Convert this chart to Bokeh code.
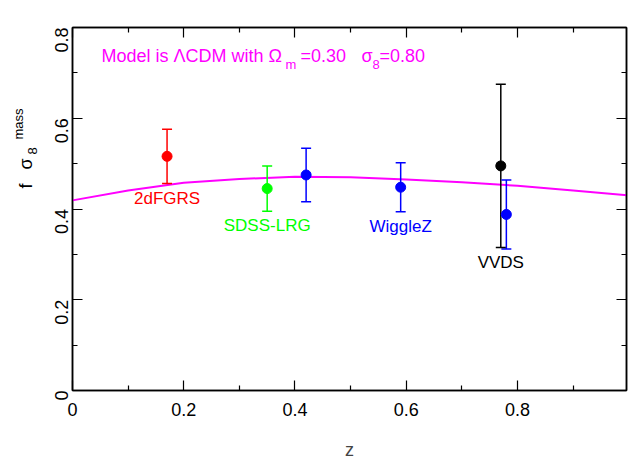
import math
from bokeh.plotting import figure
from bokeh.layouts import row
from bokeh.models import Range1d, LinearAxis, Label, CustomJSTickFormatter, ColumnDataSource
from bokeh.embed import file_html
from bokeh.resources import INLINE
from bokeh.core.properties import value

# ---- data ----
z = [0.17, 0.35, 0.42, 0.59, 0.78, 0.77]
fs8 = [0.516, 0.445, 0.475, 0.448, 0.388, 0.495]
err = [0.060, 0.050, 0.059, 0.054, 0.076, 0.180]
pt_colors = ["#ff0000", "#00ff00", "#0000ff", "#0000ff", "#0000ff", "#000000"]

survey_names = ["2dFGRS", "SDSS-LRG", "WiggleZ", "VVDS"]
survey_point = [0, 1, 3, 5]          # which point each name sits under

model_z = [0.0, 0.1, 0.2, 0.3, 0.4, 0.5, 0.6, 0.7, 0.8, 0.9, 1.0]
model_fs8 = [0.419, 0.441, 0.458, 0.466, 0.471, 0.470, 0.465, 0.459, 0.451, 0.441, 0.430]

x_ticks_major = [0, 0.2, 0.4, 0.6, 0.8]
y_ticks_major = [0, 0.2, 0.4, 0.6, 0.8]

FONT = "Liberation Sans"
MAGENTA = "#ff00ff"
H = 462
LW = 40   # width of the strip that carries the y-axis title

p = figure(width=628 - LW, height=H, output_backend="svg", toolbar_location=None,
           x_range=Range1d(0, 0.996), y_range=Range1d(0, 0.8),
           min_border_left=72 - LW, min_border_right=2, min_border_top=27,
           min_border_bottom=68, background_fill_color="white",
           border_fill_color="white", outline_line_color="black",
           outline_line_width=1.5)
p.xgrid.visible = False
p.ygrid.visible = False


def style_axis(ax, labels=True):
    ax.axis_line_color = "black"
    ax.axis_line_width = 1.5
    ax.major_tick_line_color = "black"
    ax.minor_tick_line_color = "black"
    ax.major_tick_line_width = 1.2
    ax.minor_tick_line_width = 1.2
    ax.major_tick_in = 10
    ax.major_tick_out = 0
    ax.minor_tick_in = 5
    ax.minor_tick_out = 0
    ax.major_label_text_font = FONT
    ax.major_label_text_font_size = "18px"
    ax.major_label_text_color = "black"
    if not labels:
        ax.formatter = CustomJSTickFormatter(code="return ''")
        ax.major_label_text_font_size = "0px"
        ax.major_label_standoff = 0


xa = p.xaxis[0]
xa.ticker = x_ticks_major
style_axis(xa)
xa.ticker.minor_ticks = [0.1, 0.3, 0.5, 0.7, 0.9]
xa.major_label_standoff = 12
xa.axis_label = "z"
xa.axis_label_text_font = FONT
xa.axis_label_text_font_size = "18px"
xa.axis_label_text_font_style = "normal"
xa.axis_label_standoff = 21

ya = p.yaxis[0]
ya.ticker = y_ticks_major
style_axis(ya)
ya.ticker.minor_ticks = [0.1, 0.3, 0.5, 0.7]
ya.major_label_orientation = math.pi / 2
ya.major_label_standoff = 11

top = LinearAxis()
top.ticker = x_ticks_major
style_axis(top, labels=False)
top.ticker.minor_ticks = [0.1, 0.3, 0.5, 0.7, 0.9]
p.add_layout(top, "above")

right = LinearAxis()
right.ticker = y_ticks_major
style_axis(right, labels=False)
right.ticker.minor_ticks = [0.1, 0.3, 0.5, 0.7]
p.add_layout(right, "right")

# ---- model curve ----
p.line(model_z, model_fs8, line_color=MAGENTA, line_width=2)

# ---- error bars and points ----
lo = [v - e for v, e in zip(fs8, err)]
hi = [v + e for v, e in zip(fs8, err)]
src = ColumnDataSource(dict(z=z, v=fs8, lo=lo, hi=hi, c=pt_colors))
p.segment(x0="z", y0="lo", x1="z", y1="hi", line_color="c", line_width=1.5, source=src)
p.scatter(x="z", y="lo", marker="dash", size=10, line_color="c", line_width=1.5, source=src)
p.scatter(x="z", y="hi", marker="dash", size=10, line_color="c", line_width=1.5, source=src)
p.scatter(x="z", y="v", marker="circle", size=10, fill_color="c", line_color="c", source=src)

# ---- survey names under their error bars ----
lab_src = ColumnDataSource(dict(
    x=[z[i] for i in survey_point],
    y=[lo[i] for i in survey_point],
    t=survey_names,
    c=[pt_colors[i] for i in survey_point],
))
p.text(x="x", y="y", text="t", text_color="c", source=lab_src,
       text_align="center", text_baseline="top", y_offset=5,
       text_font=value(FONT), text_font_size="17px")

# ---- model annotation (with subscripts) ----
title_parts = [("Model is \u039bCDM with \u03a9", 29, 335, "18px"),
               ("m", 213, 326, "13px"),
               ("=0.30", 228, 335, "18px"),
               ("\u03c3", 289, 335, "18px"),
               ("8", 300, 326, "13px"),
               ("=0.80", 307, 335, "18px")]
for txt, sx, sy, fs in title_parts:
    p.add_layout(Label(x=sx, y=sy, x_units="screen", y_units="screen", text=txt,
                       text_color=MAGENTA, text_font=FONT, text_font_size=fs,
                       text_align="left", text_baseline="alphabetic"))

# ---- y axis title strip: f sigma_8^mass (pixel-like coordinates) ----
lab = figure(width=LW, height=H, output_backend="svg", toolbar_location=None,
             x_range=Range1d(0, LW), y_range=Range1d(0, H),
             x_axis_location=None, y_axis_location=None,
             min_border=0, min_border_left=0, min_border_right=0,
             min_border_top=0, min_border_bottom=0,
             outline_line_color=None, background_fill_color="white",
             border_fill_color="white")
lab.xgrid.visible = False
lab.ygrid.visible = False
ylab_parts = [("f", 25, H - 260, "18px"),
              ("\u03c3", 25, H - 241, "18px"),
              ("8", 32, H - 226, "13px"),
              ("mass", 18, H - 211, "13px")]
for txt, sx, sy, fs in ylab_parts:
    lab.add_layout(Label(x=sx, y=sy, x_units="screen", y_units="screen", text=txt,
                         angle=math.pi / 2, text_color="black", text_font=FONT,
                         text_font_size=fs, text_align="left",
                         text_baseline="alphabetic"))

layout = row(lab, p)
open("out.html", "w").write(file_html(layout, INLINE))
